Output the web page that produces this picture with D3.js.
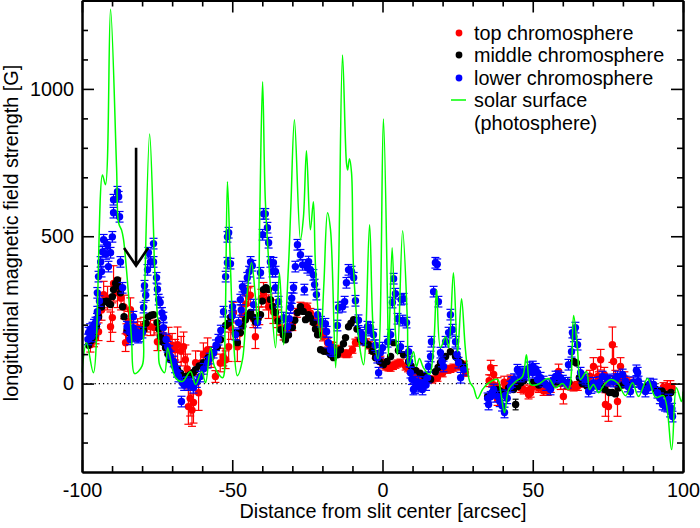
<!DOCTYPE html>
<html><head><meta charset="utf-8">
<script src="https://cdn.jsdelivr.net/npm/d3@7"></script>
<style>html,body{margin:0;padding:0;background:#fff}svg{display:block}text{font-family:"Liberation Sans",Arial,sans-serif;fill:#000}</style>
</head><body><svg id="c" width="700" height="528"></svg>
<script>
const surface=[[-100,37],[-98.5,139],[-96.2,37],[-93.2,708],[-92.2,675],[-90.5,1270],[-88.5,735],[-87.8,545],[-86.8,520],[-86.2,490],[-84.5,300],[-83.5,150],[-82.5,34],[-80,60],[-79.5,180],[-77.5,847],[-76.2,520],[-75.9,410],[-74.5,150],[-74.2,65],[-72.5,37],[-71.5,122],[-70.5,81],[-68.9,20],[-66.6,7],[-63.9,41],[-62.2,-3],[-60.2,41],[-58.9,3],[-57.2,122],[-55.9,58],[-53.2,20],[-52.4,180],[-51.6,685],[-50.6,397],[-49.6,149],[-48.3,27],[-46.6,81],[-45,308],[-43.6,410],[-42.3,295],[-41.5,200],[-40.8,600],[-39.9,1024],[-39,624],[-37.3,330],[-35.6,122],[-34.3,376],[-32.9,132],[-31.3,397],[-30.5,600],[-29.3,895],[-27.3,488],[-26.3,566],[-25.3,790],[-24,522],[-23,617],[-22.3,397],[-20.6,149],[-19.5,340],[-18.3,580],[-17.3,522],[-15.6,54],[-14.6,397],[-13.3,1115],[-12,749],[-11.6,725],[-11,763],[-10.3,715],[-9.6,380],[-7.3,105],[-6.3,64],[-4.3,539],[-3,173],[-1.5,85],[0.3,898],[1.7,261],[2,92],[3.2,461],[4.3,173],[5,98],[6.7,519],[8.3,207],[8.7,58],[10.3,108],[11.3,58],[12.3,85],[13.6,54],[15.6,31],[17,125],[18,319],[19.3,122],[21,159],[22,122],[23.6,376],[25,108],[26.3,288],[27.6,115],[29,7],[30.3,-14],[31.6,-51],[33.3,-20],[35,0],[38.3,14],[39.3,-27],[40.6,-98],[42,-20],[44.3,7],[46.6,24],[47.9,98],[49.3,-3],[51.6,-3],[55.2,17],[57.6,-14],[59.9,0],[61.9,-20],[63.6,231],[64.9,115],[65.9,14],[67.9,41],[68.9,-20],[70.2,-3],[71.9,-31],[73.5,-7],[75.9,14],[78.2,3],[80.9,-41],[83.2,3],[85.2,-44],[88.2,17],[90.9,-47],[93.5,-41],[96.2,-224],[97.8,-14],[99.5,-61],[100,-27]];
const red=[[-97.2,132,25],[-96,150,25],[-94.5,176,30],[-92.8,302,45],[-89.5,340,60],[-89.9,224,50],[-90.5,193,50],[-88.2,308,50],[-85.5,139,30],[-85.2,173,30],[-83.9,251,40],[-81.5,190,30],[-79.5,195,30],[-77.2,193,30],[-74.9,142,30],[-71.2,156,35],[-68.2,132,60],[-66.2,125,50],[-65.6,81,50],[-64.6,-78,60],[-63.4,-90,55],[-62.9,-64,70],[-61.2,-31,60],[-59.6,98,40],[-58.2,115,40],[-62.2,71,40],[-55.6,24,20],[-54,70,30],[-52.2,81,30],[-51.2,125,50],[-49.6,241,35],[-48.3,125,50],[-46.6,234,30],[-44.6,295,30],[-42.3,159,40],[-39.6,308,35],[-38.6,285,35],[-37.9,261,40],[-36.3,244,40],[-32.9,173,25],[-31.5,180,20],[-30,200,20],[-28.5,240,15],[-27.3,261,15],[-26.2,258,15],[-25,258,15],[-24,240,15],[-23,217,15],[-21.3,190,15],[-19.8,160,15],[-18.3,139,15],[-16.6,125,15],[-14.6,115,12],[-13,102,12],[-11.3,102,12],[-10,115,12],[-9,139,12],[-6.7,149,12],[-4.5,130,12],[-2.3,98,12],[-0.7,81,12],[1,58,12],[2.7,54,12],[4.3,64,12],[6,71,12],[7.7,58,12],[9.3,47,12],[11,37,12],[13.6,20,12],[16.6,14,12],[18.3,20,12],[21.6,47,12],[23.6,54,12],[25.5,58,12],[27,64,12],[27.6,37,12],[36,54,25],[37,31,30],[35.5,10,20],[38.3,-10,30],[38.3,-54,20],[40.5,5,20],[42.6,14,15],[45,-5,15],[47,-20,15],[48.6,-37,15],[49.3,-31,15],[50.3,-10,15],[53.6,-25,15],[56,-15,15],[58.6,41,25],[60.2,-44,25],[61.5,-5,12],[63.6,-10,15],[65,-8,15],[70.2,58,30],[71.6,24,35],[72.6,81,35],[73.8,30,25],[74.2,-71,40],[75.2,-78,50],[76.5,132,60],[76.9,75,50],[78.2,-61,50],[79.2,58,30],[80.5,20,20],[94.8,-10,20],[95.8,-10,20],[96.4,-15,15],
[-95.5,160,25],[-93.5,250,35],[-91.5,290,40],[-87,290,40],[-86,260,40],[-84.5,210,35],[-82.8,175,30],[-80.5,185,25],[-78.3,200,25],[-76,190,25],[-73,165,30],[-70,130,40],[-69,115,35],[-67,110,50],[-65,50,50],[-64,-50,60],[-60.5,70,40],[-57,90,35],[-53,90,30],[-50.5,190,40],[-47.5,170,45],[-45.5,270,30],[-44,300,30],[-43,220,30],[-41,230,30],[-40.3,290,30],[-35,220,30],[-34,190,25],[-22,205,12],[-20.5,175,12],[-17.5,130,12],[-15.5,118,12],[-12,100,12],[-8,145,12],[-5.5,140,12],[-3.5,115,12],[-1.5,90,12],[0,65,12],[2,55,12],[3.5,60,12],[5,68,12],[8.5,52,12],[10,42,12],[12,28,12],[15,15,12],[20,35,12],[22.6,50,12],[26.5,60,12],[37,-5,20],[39,-25,20],[41,-10,15],[43.8,0,15],[46,-15,15],[49,-20,15],[52,-15,15],[55,-25,15],[57,5,15],[59.3,0,20],[62,-8,12],[62.8,-10,12],[64.3,-10,12],[66,0,12],[68,10,15],[69,25,20],[72,15,25],[75,0,25],[77.5,20,25],[78.5,10,25],[82,5,15],[93.5,-12,15]];
const black=[[-97.8,130,4],[-97,145,4],[-96,160,4],[-95.2,195,4],[-94.5,227,4],[-92.8,278,4],[-91.8,280,4],[-90.5,268,4],[-89.5,319,4],[-88.2,352,4],[-87.2,308,4],[-86.5,261,4],[-86,227,4],[-85,183,4],[-83.3,160,4],[-81.3,160,4],[-79.5,183,4],[-77.9,227,4],[-76.2,234,4],[-75,207,4],[-73.9,160,4],[-72.2,122,4],[-70.5,81,4],[-68.2,47,4],[-66.2,24,4],[-64,30,4],[-62.2,47,4],[-59.6,71,4],[-56.2,105,4],[-53.9,149,4],[-52.2,197,4],[-50.5,225,4],[-49,170,4],[-48.3,139,4],[-47.3,173,4],[-45.6,217,4],[-43.9,241,4],[-42.3,210,4],[-40.6,234,4],[-39.6,319,4],[-37.9,319,4],[-37.3,285,4],[-35.6,241,4],[-33.9,183,4],[-32.3,149,4],[-31.3,165,4],[-30,190,4],[-28.3,241,4],[-27.3,261,4],[-26.4,245,4],[-25.6,217,4],[-24.6,234,4],[-23,207,4],[-21.6,166,4],[-20.6,115,4],[-19.5,110,4],[-18.3,108,4],[-16.3,88,4],[-15,98,4],[-14,115,4],[-12.3,156,4],[-11.3,193,4],[-9.6,217,4],[-8.5,185,4],[-7.3,149,4],[-4.7,132,4],[-3.4,110,4],[-2.3,88,4],[0.3,64,4],[2.7,92,4],[3.7,139,4],[5.3,112,4],[7,98,4],[8.7,75,4],[14,25,4],[16,14,4],[17.6,40,4],[19.3,71,4],[21,92,4],[22.6,108,4],[24.3,92,4],[26,71,4],[35,-44,4],[36.2,-35,4],[38,-20,4],[40,-30,4],[43.6,-20,4],[44.3,-71,18],[46,3,4],[63.6,75,4],[64.5,70,4],[65.5,20,4],[72,-5,4],[74,-20,4],[75.5,-30,4],[76.5,-30,4],[77.5,-35,4],[80,-5,4],[93,-25,4],[95,-40,4],
[-93.5,260,4],[-91,272,4],[-89.9,295,4],[-88.8,340,4],[-87.7,330,4],[-84,170,4],[-82.4,158,4],[-80.4,170,4],[-78.7,205,4],[-77,232,4],[-74.4,185,4],[-73,140,4],[-71.4,100,4],[-69.3,62,4],[-67.2,35,4],[-65,25,4],[-63,38,4],[-61,60,4],[-58,88,4],[-55,125,4],[-51.3,205,4],[-46.5,195,4],[-44.8,230,4],[-43,225,4],[-41.4,220,4],[-40,280,4],[-38.8,325,4],[-36.5,262,4],[-34.8,212,4],[-33,165,4],[-29.2,215,4],[-24,222,4],[-22.3,185,4],[-17.3,98,4],[-13,135,4],[-10.5,205,4],[-6,140,4],[-1,75,4],[1.5,75,4],[9.5,60,4],[11,45,4],[12.5,35,4],[15,18,4],[18.5,55,4],[20,80,4],[25,85,4],[27,60,4],[37,-28,4],[39,-25,4],[42,-15,4],[45,-10,4],[47,10,4],[50,5,4],[52,-5,4],[54,0,4],[56,-10,4],[58,5,4],[60,8,4],[62,5,4],[66.5,0,4],[68,-8,4],[70,0,4],[73,-12,4],[78.5,-15,4],[82,-5,4],[85,5,4],[88,-10,4],[91,-20,4],[94,-35,4],[96,-30,4]];
const blue=[[-97.8,173,18],[-96.5,190,18],[-95.5,207,18],[-96.8,160,18],[-95.8,180,18],[-94.9,244,18],[-94.9,308,18],[-94.5,363,18],[-93.8,413,18],[-93.2,447,18],[-92.8,488,18],[-91.5,471,18],[-91.2,397,18],[-90.5,444,18],[-89.9,498,18],[-89.5,580,18],[-89.5,624,18],[-88.2,651,18],[-87.8,634,18],[-87.5,566,18],[-87.2,413,18],[-86.5,325,18],[-85,193,18],[-83.9,173,18],[-82.9,227,18],[-82.5,160,18],[-81.3,156,18],[-79.9,173,18],[-79.5,258,18],[-79.2,332,18],[-78.2,386,18],[-77.9,444,18],[-77.2,413,18],[-76.2,413,18],[-76.2,475,18],[-75.2,359,18],[-74.5,285,18],[-74,275,18],[-72.9,224,18],[-72.9,190,18],[-71.5,125,18],[-70.5,92,18],[-69.5,75,18],[-67.9,24,18],[-66.6,3,18],[-66.9,-61,18],[-65,5,18],[-62.9,-14,18],[-60.6,24,18],[-59.5,50,18],[-58.2,71,18],[-56.2,105,18],[-54.6,149,18],[-52.9,244,18],[-52.2,363,18],[-51.6,410,18],[-51.6,498,18],[-51.2,512,18],[-50.6,407,18],[-49.9,261,18],[-48.9,166,18],[-47.9,207,18],[-47.3,285,18],[-46.6,329,18],[-46,315,18],[-45,359,18],[-43.9,413,18],[-43.3,400,18],[-42.9,268,18],[-41.6,207,18],[-40.6,376,18],[-39.9,505,18],[-39.6,576,18],[-39,576,18],[-38.3,529,18],[-37.9,478,18],[-37.3,413,18],[-36.3,410,18],[-36.6,380,18],[-35.6,380,18],[-35.6,325,18],[-34.6,278,18],[-32.9,224,18],[-31.6,193,18],[-30.6,258,18],[-29.6,325,18],[-29,397,18],[-28.3,471,18],[-27.3,437,18],[-26.6,403,18],[-26,319,18],[-25,393,18],[-24.6,414,18],[-24,386,18],[-23,369,18],[-22.6,336,18],[-22,302,18],[-21.6,234,18],[-19,203,18],[-18.6,176,18],[-18,139,18],[-17.3,115,18],[-15,197,18],[-14.6,258,18],[-13.3,261,18],[-12.6,278,18],[-12,342,18],[-11.3,386,18],[-10.3,380,18],[-9.6,359,18],[-9,281,18],[-7.3,173,18],[-6.3,149,18],[-5,193,18],[-4,190,18],[-3,166,18],[-1.7,88,18],[-1.3,37,18],[0,122,18],[1.7,142,18],[2.7,166,18],[3.3,275,18],[4.3,305,18],[3.7,356,18],[7,288,18],[6.2,285,18],[5,220,18],[6.7,214,18],[8,207,18],[6,125,18],[8.7,108,18],[9.3,37,18],[11,7,18],[10.3,-20,18],[13.3,-20,18],[12,-10,18],[15,20,18],[15.3,58,18],[16,92,18],[16.3,142,18],[17.6,410,18],[18.2,405,18],[17,312,18],[18.6,278,18],[19.3,105,18],[20.3,58,18],[21,142,18],[22,173,18],[22.6,234,18],[23.3,183,18],[24.3,142,18],[25.3,71,18],[26,20,18],[27,47,18],[35.3,-71,18],[36,-45,18],[37,-20,18],[38.3,-44,18],[40.6,-98,18],[40.8,-40,18],[42.6,-10,18],[43.8,15,18],[44.9,47,18],[46,24,18],[47.5,40,18],[50,58,18],[50,37,18],[51.6,37,18],[51.6,14,18],[53.6,7,18],[55.9,-20,18],[57.6,24,18],[59.2,20,18],[61.6,3,18],[61.9,64,18],[62.9,108,18],[63.2,173,18],[64.2,190,18],[63.7,160,18],[64.9,132,18],[65.9,37,18],[67.6,14,18],[68.6,-27,18],[70.2,3,18],[71.6,-10,18],[73.2,24,18],[74.9,14,18],[76.9,7,18],[78.2,24,18],[79.9,31,18],[80.9,7,18],[82.5,-27,18],[84.9,37,18],[85.2,7,18],[87.5,-27,18],[90.2,-3,18],[91.5,-31,18],[93.2,-71,18],[94.8,-78,18],[95.2,-54,18],[96.5,-112,18],[96.3,-85,18],
[-98,150,18],[-97.3,185,18],[-96,200,18],[-95,220,18],[-94.2,280,18],[-93.5,380,18],[-92,440,18],[-84.5,190,18],[-84,150,18],[-83,190,18],[-81.8,175,18],[-80.7,160,18],[-78.8,300,18],[-74.9,320,18],[-73.4,240,18],[-72,150,18],[-71,110,18],[-69,55,18],[-68.4,40,18],[-66,-5,18],[-64.5,-5,18],[-63.7,0,18],[-61.8,5,18],[-57.5,85,18],[-55.4,130,18],[-53.8,180,18],[-50,230,18],[-47,250,18],[-44.4,380,18],[-31,220,18],[-30.2,290,18],[-20.5,210,18],[-16.5,110,18],[-8,215,18],[-6.8,165,18],[-4.5,180,18],[-2.4,130,18],[-0.7,105,18],[9,75,18],[9.8,15,18],[10.8,-15,18],[12,5,18],[13.8,5,18],[14.5,-5,18],[19.8,75,18],[24.8,100,18],[35,-50,18],[36.5,-30,18],[39,-60,18],[39.8,-75,18],[41.5,-50,18],[43,5,18],[45.5,40,18],[46.5,35,18],[48,30,18],[49,55,18],[51,50,18],[52.6,20,18],[54.5,-5,18],[56.5,10,18],[58.5,25,18],[60,10,18],[66.5,20,18],[69.5,-15,18],[72.3,5,18],[75.5,10,18],[77.5,15,18],[81.7,-10,18],[83.5,5,18],[84.5,45,18],[86,-10,18],[88.5,-15,18],[89,0,18],[92.3,-50,18],[94,-75,18],[95.7,-95,18]];
const xMajor=[-100,-50,0,50,100];
const xMinor=[-90,-80,-70,-60,-40,-30,-20,-10,10,20,30,40,60,70,80,90];
const yMajor=[0,500,1000];
const yMinor=[-200,-100,100,200,300,400,600,700,800,900,1100,1200];
const legendRows=[["top chromosphere","#ff0000"],["middle chromosphere","#000000"],["lower chromosphere","#0000ff"]];
const legendLine=["solar surface","(photosphere)"];

const svg=d3.select("#c");
const L=82,R=683,T=0.5,B=472,FS=19.8,GREEN="#00ff00";
const x=d3.scaleLinear().domain([-100,100]).range([L,R]);
const y=d3.scaleLinear().domain([-300,1300]).range([B,T]);

svg.append("line").attr("x1",x(-100)).attr("x2",x(100)).attr("y1",y(0)).attr("y2",y(0))
 .attr("stroke","#000").attr("stroke-width",1.2).attr("stroke-dasharray","1.2 3");

function series(data,color,cap){
 const g=svg.append("g");
 const s=g.selectAll("g").data(data).join("g").attr("stroke",color).attr("stroke-width",1.2);
 s.append("line").attr("x1",d=>x(d[0])).attr("x2",d=>x(d[0])).attr("y1",d=>y(d[1]-d[2])).attr("y2",d=>y(d[1]+d[2]));
 [-1,1].forEach(k=>s.append("line").attr("x1",d=>x(d[0])-cap).attr("x2",d=>x(d[0])+cap)
   .attr("y1",d=>y(d[1]+k*d[2])).attr("y2",d=>y(d[1]+k*d[2])));
 s.append("circle").attr("cx",d=>x(d[0])).attr("cy",d=>y(d[1])).attr("r",3.7).attr("fill",color).attr("stroke","none");
}
series(red,"#ff0000",4);
series(black,"#000000",3);
series(blue,"#0000ff",4);

svg.append("path").datum(surface).attr("fill","none").attr("stroke",GREEN).attr("stroke-width",1.5)
 .attr("d",d3.line().x(d=>x(d[0])).y(d=>y(d[1])).curve(d3.curveCatmullRom.alpha(0.5)));

const ax=-82;
svg.append("path").attr("fill","none").attr("stroke","#000").attr("stroke-width",2.6)
 .attr("d",`M${x(ax)},${y(800)}L${x(ax)},${y(400)}M${x(ax-4)},${y(460)}L${x(ax)},${y(400)}L${x(ax+4)},${y(460)}`);

function ax1(gen,tf,vals,len,labels){
 const g=svg.append("g").attr("transform",tf).call(gen.tickValues(vals).tickSize(len).tickSizeOuter(0));
 g.selectAll("path").attr("stroke","#000").attr("stroke-width",2);
 g.selectAll(".tick line").attr("stroke","#000").attr("stroke-width",1.6);
 if(labels){g.selectAll("text").attr("font-size",FS).attr("font-family","Liberation Sans").text(d=>String(d));}
 else g.selectAll("text").remove();
 return g;
}
ax1(d3.axisBottom(x),`translate(0,${B})`,xMinor,-6);
ax1(d3.axisBottom(x),`translate(0,${B})`,xMajor,-12,true).selectAll("text").attr("dy",0).attr("y",25);
ax1(d3.axisTop(x),`translate(0,${T})`,xMinor,-6);
ax1(d3.axisTop(x),`translate(0,${T})`,xMajor,-12);
ax1(d3.axisLeft(y),`translate(${L},0)`,yMinor,-6);
ax1(d3.axisLeft(y),`translate(${L},0)`,yMajor,-12,true).selectAll("text").attr("x",-8);
ax1(d3.axisRight(y),`translate(${R},0)`,yMinor,-6);
ax1(d3.axisRight(y),`translate(${R},0)`,yMajor,-12);

svg.append("text").attr("x",383).attr("y",518).attr("text-anchor","middle").attr("font-size",FS).text("Distance from slit center [arcsec]");
svg.append("text").attr("transform","translate(18,233) rotate(-90)").attr("text-anchor","middle").attr("font-size",FS).text("longitudinal magnetic field strength [G]");

const ly=[33,55,78];
legendRows.forEach((r,i)=>{
 svg.append("circle").attr("cx",459).attr("cy",ly[i]).attr("r",3.4).attr("fill",r[1]);
 svg.append("text").attr("x",474).attr("y",ly[i]+6.5).attr("font-size",FS).text(r[0]);
});
svg.append("line").attr("x1",451).attr("x2",466).attr("y1",100).attr("y2",100).attr("stroke",GREEN).attr("stroke-width",1.5);
svg.append("text").attr("x",474).attr("y",106.5).attr("font-size",FS).text(legendLine[0]);
svg.append("text").attr("x",474).attr("y",129.5).attr("font-size",FS).text(legendLine[1]);
</script></body></html>
